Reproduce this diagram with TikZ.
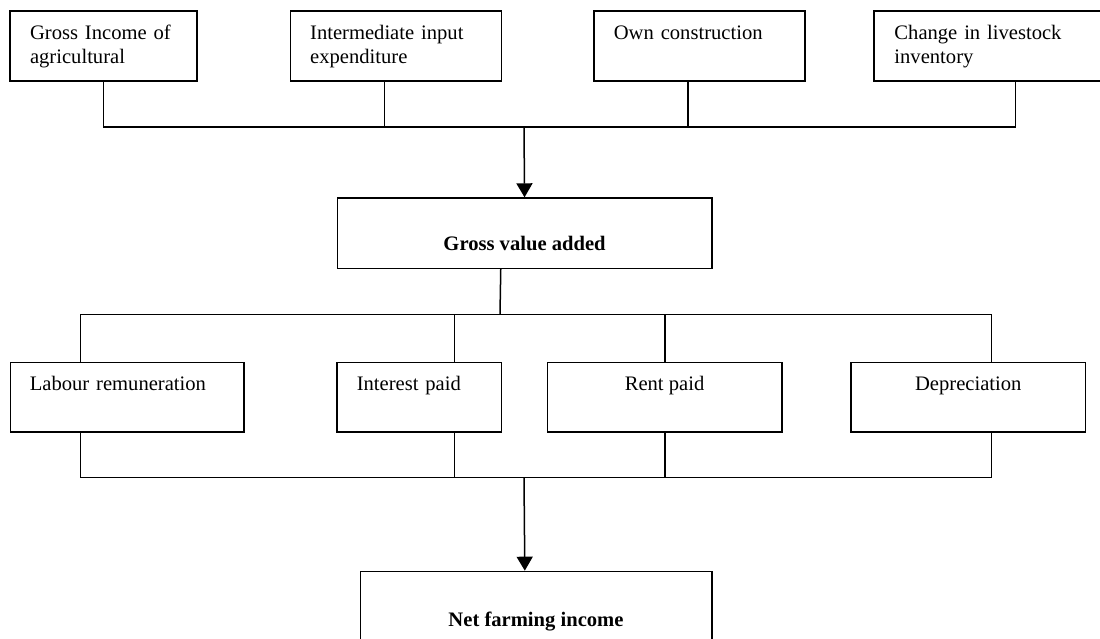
\documentclass[tikz,border=0pt]{standalone}
\usepackage{fontspec}
\setmainfont{Liberation Serif}
\usetikzlibrary{arrows.meta}

\begin{document}
\begin{tikzpicture}[
    x=1pt,
    y=-1pt,
    line width=1.5pt,
    box/.style={
      draw,
      rectangle,
      anchor=north west,
      inner sep=0pt,
      minimum height=70pt},
    lefttext/.style={
      anchor=base west,
      inner sep=0pt,
      text width=200pt,
      align=left,
      font=\fontsize{20.6}{23.3}\selectfont},
    midtext/.style={
      anchor=base,
      inner sep=0pt,
      font=\fontsize{20.6}{23.3}\selectfont},
    boldtext/.style={
      midtext,
      font=\fontsize{20.6}{23.3}\selectfont\bfseries},
    flow/.style={
      -{Triangle[width=16pt,length=14pt]}},
  ]
  \useasboundingbox (0,0) rectangle (1100,639);

  \node[box, minimum width=187pt] (inc) at (9.3,10.3) {};
  \node[box, minimum width=210.8pt] (inter) at (289.7,10.3) {};
  \node[box, minimum width=211.2pt] (own) at (593.1,10.3) {};
  \node[box, minimum width=251.6pt] (live) at (873.4,10.3) {};
  \node[lefttext] (inc-t) at ([shift={(20pt,-29.7pt)}]inc.north west)
    {Gross Income of\\agricultural};
  \node[lefttext] (inter-t) at ([shift={(19.7pt,-29.7pt)}]inter.north west)
    {Intermediate input\\expenditure};
  \node[lefttext] (own-t) at ([shift={(20pt,-29.7pt)}]own.north west)
    {Own construction};
  \node[lefttext] (live-t) at ([shift={(20.3pt,-29.7pt)}]live.north west)
    {Change in livestock\\inventory};

  \node[box, minimum width=374.4pt, minimum height=70.4pt] (gva) at (336.6,197.3) {};
  \node[boldtext] (gva-t) at ([yshift=-53.4pt]gva.north) {Gross value added};

  \node[box, minimum width=233.9pt, minimum height=69.3pt] (lab) at (9.5,361.7) {};
  \node[box, minimum width=164.1pt, minimum height=69.3pt] (intp) at (336.4,361.7) {};
  \node[box, minimum width=234.6pt, minimum height=69.3pt] (rent) at (546.5,361.7) {};
  \node[box, minimum width=234.7pt, minimum height=69.3pt] (dep) at (850.2,361.7) {};
  \node[lefttext] (lab-t) at ([shift={(19.6pt,-28.3pt)}]lab.north west)
    {Labour remuneration};
  \node[lefttext] (intp-t) at ([shift={(19.6pt,-28.3pt)}]intp.north west)
    {Interest paid};
  \node[midtext] (rent-t) at ([yshift=-28.3pt]rent.north) {Rent paid};
  \node[midtext] (dep-t) at ([yshift=-28.3pt]dep.north) {Depreciation};

  \node[box, minimum width=351.5pt, minimum height=90pt] (nfi) at (359.5,570.7) {};
  \node[boldtext] (nfi-t) at ([yshift=-55.3pt]nfi.north) {Net farming income};

  \coordinate (topbus) at (524,127);
  \coordinate (midbus) at (500,314.3);
  \coordinate (lowbus) at (524,477.7);

  \draw (inc.south) |- (topbus);
  \draw ([xshift=-11.4pt]inter.south) |- (topbus);
  \draw ([xshift=-11.6pt]own.south) |- (topbus);
  \draw ([xshift=15.5pt]live.south) |- (topbus);
  \draw[flow] (topbus) -- (gva.north);

  \draw ([xshift=-23.8pt]gva.south) -- (midbus);
  \draw (midbus) -| ([xshift=-46.5pt]lab.north);
  \draw (midbus) -| ([xshift=35.1pt]intp.north);
  \draw (midbus) -| ([xshift=0.2pt]rent.north);
  \draw (midbus) -| ([xshift=23.4pt]dep.north);

  \draw ([xshift=-46.5pt]lab.south) |- (lowbus);
  \draw ([xshift=35.1pt]intp.south) |- (lowbus);
  \draw ([xshift=0.2pt]rent.south) |- (lowbus);
  \draw ([xshift=23.4pt]dep.south) |- (lowbus);
  \draw[flow] (lowbus) -- ([xshift=-11.2pt]nfi.north);
\end{tikzpicture}
\end{document}
